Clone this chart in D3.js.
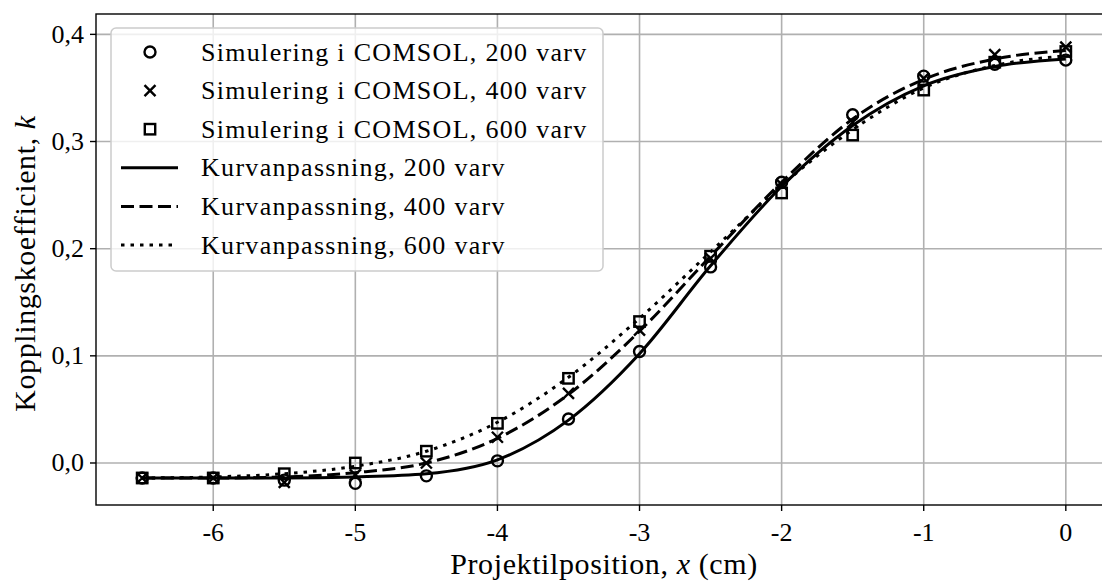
<!DOCTYPE html>
<html>
<head>
<meta charset="utf-8">
<script src="https://cdn.jsdelivr.net/npm/d3@7"></script>
<style>
  body { margin: 0; background: #fff; }
  svg { display: block; }
  text { font-family: 'Liberation Serif', 'DejaVu Serif', serif; fill: #000; }
</style>
</head>
<body>
<div id="chart"></div>
<script>
const positions = [-6.5, -6, -5.5, -5, -4.5, -4, -3.5, -3, -2.5, -2, -1.5, -1, -0.5, 0];

// Simulated points (COMSOL)
const sim200 = [-0.014, -0.014, -0.016, -0.019, -0.012, 0.002, 0.041, 0.104, 0.183, 0.262, 0.325, 0.361, 0.372, 0.376];
const sim400 = [-0.014, -0.014, -0.018, -0.011, 0.000, 0.024, 0.065, 0.124, 0.191, 0.260, 0.318, 0.359, 0.381, 0.388];
const sim600 = [-0.014, -0.014, -0.010, 0.000, 0.011, 0.037, 0.079, 0.132, 0.193, 0.252, 0.306, 0.348, 0.374, 0.384];

// Fitted curves
const fit200 = [-0.014, -0.014, -0.014, -0.013, -0.010, 0.003, 0.040, 0.102, 0.184, 0.258, 0.315, 0.352, 0.370, 0.377];
const fit400 = [-0.014, -0.014, -0.013, -0.009, 0.000, 0.023, 0.064, 0.123, 0.193, 0.262, 0.321, 0.358, 0.377, 0.385];
const fit600 = [-0.014, -0.013, -0.010, -0.003, 0.011, 0.038, 0.080, 0.135, 0.197, 0.259, 0.311, 0.350, 0.371, 0.380];

const xTicks = [-6, -5, -4, -3, -2, -1, 0];
const yTicks = [0.0, 0.1, 0.2, 0.3, 0.4];

const simLabels = ['Simulering i COMSOL, 200 varv', 'Simulering i COMSOL, 400 varv', 'Simulering i COMSOL, 600 varv'];
const fitLabels = ['Kurvanpassning, 200 varv', 'Kurvanpassning, 400 varv', 'Kurvanpassning, 600 varv'];

const width = 1102;
const height = 581;
const plot = { left: 96, top: 14, bottom: 505, right: 1112 };

const svg = d3.select('#chart')
  .append('svg')
  .attr('width', width)
  .attr('height', height);

const x = d3.scaleLinear().domain([-6.825, 0.325]).range([plot.left, plot.right]);
const y = d3.scaleLinear().domain([-0.0392, 0.419]).range([plot.bottom, plot.top]);

// Grid
const grid = svg.append('g').attr('stroke', '#b0b0b0').attr('stroke-width', 1.6);
grid.selectAll('.gx').data(xTicks).enter().append('line')
  .attr('x1', d => x(d)).attr('x2', d => x(d))
  .attr('y1', plot.top).attr('y2', plot.bottom);
grid.selectAll('.gy').data(yTicks).enter().append('line')
  .attr('x1', plot.left).attr('x2', plot.right)
  .attr('y1', d => y(d)).attr('y2', d => y(d));

// Markers
const markerSize = 5.5;
const markers = svg.append('g')
  .attr('fill', 'none')
  .attr('stroke', '#000')
  .attr('stroke-width', 2.4);

function drawCircle(g, cx, cy) {
  g.append('circle').attr('cx', cx).attr('cy', cy).attr('r', markerSize);
}
function drawCross(g, cx, cy) {
  const s = markerSize;
  g.append('path').attr('d', `M${cx - s},${cy - s}L${cx + s},${cy + s}M${cx - s},${cy + s}L${cx + s},${cy - s}`);
}
function drawSquare(g, cx, cy) {
  const s = markerSize - 0.3;
  g.append('rect').attr('x', cx - s).attr('y', cy - s).attr('width', 2 * s).attr('height', 2 * s);
}

const simSeries = [sim200, sim400, sim600];
const drawers = [drawCircle, drawCross, drawSquare];
simSeries.forEach((series, i) => {
  series.forEach((v, j) => drawers[i](markers, x(positions[j]), y(v)));
});

// Fitted lines
const dashes = [null, '13,5.5', '3.5,6'];
const line = d3.line()
  .x((d, i) => x(positions[i]))
  .y(d => y(d))
  .curve(d3.curveMonotoneX);

[fit200, fit400, fit600].forEach((series, i) => {
  svg.append('path')
    .datum(series)
    .attr('d', line)
    .attr('fill', 'none')
    .attr('stroke', '#000')
    .attr('stroke-width', 3)
    .attr('stroke-dasharray', dashes[i]);
});

// Spines
svg.append('rect')
  .attr('x', plot.left).attr('y', plot.top)
  .attr('width', plot.right - plot.left).attr('height', plot.bottom - plot.top)
  .attr('fill', 'none').attr('stroke', '#000').attr('stroke-width', 1.4);

// Ticks
const tickFont = 26;
svg.selectAll('.xt').data(xTicks).enter().append('line')
  .attr('x1', d => x(d)).attr('x2', d => x(d))
  .attr('y1', plot.bottom).attr('y2', plot.bottom + 6)
  .attr('stroke', '#000').attr('stroke-width', 1.4);
svg.selectAll('.xl').data(xTicks).enter().append('text')
  .attr('x', d => x(d)).attr('y', 541)
  .attr('text-anchor', 'middle')
  .style('font-size', tickFont + 'px')
  .text(d => String(d));

svg.selectAll('.yt').data(yTicks).enter().append('line')
  .attr('x1', plot.left - 6).attr('x2', plot.left)
  .attr('y1', d => y(d)).attr('y2', d => y(d))
  .attr('stroke', '#000').attr('stroke-width', 1.4);
svg.selectAll('.yl').data(yTicks).enter().append('text')
  .attr('x', 84).attr('y', d => y(d) + 8.5)
  .attr('text-anchor', 'end')
  .style('font-size', tickFont + 'px')
  .text(d => d.toFixed(1).replace('.', ','));

// Axis labels
const labelFont = '30px';
const xLabel = svg.append('text')
  .attr('x', (plot.left + plot.right) / 2).attr('y', 574)
  .attr('text-anchor', 'middle')
  .style('font-size', labelFont)
  .style('letter-spacing', '0.6px');
xLabel.append('tspan').text('Projektilposition, ');
xLabel.append('tspan').style('font-style', 'italic').text('x');
xLabel.append('tspan').text(' (cm)');

const yLabel = svg.append('text')
  .attr('transform', 'translate(35,' + ((plot.top + plot.bottom) / 2 + 4) + ') rotate(-90)')
  .attr('text-anchor', 'middle')
  .style('font-size', labelFont)
  .style('letter-spacing', '0.6px');
yLabel.append('tspan').text('Kopplingskoefficient, ');
yLabel.append('tspan').style('font-style', 'italic').text('k');

// Legend
const legend = svg.append('g');
legend.append('rect')
  .attr('x', 111).attr('y', 28)
  .attr('width', 492).attr('height', 243)
  .attr('rx', 5)
  .attr('fill', '#fff').attr('fill-opacity', 0.8)
  .attr('stroke', '#cccccc').attr('stroke-width', 1.5);

const rowY = d3.scaleLinear().domain([0, 5]).range([52, 245]);
const legendLabels = simLabels.concat(fitLabels);
const legendMarks = legend.append('g')
  .attr('fill', 'none').attr('stroke', '#000').attr('stroke-width', 2.4);
drawers.forEach((draw, i) => draw(legendMarks, 150, rowY(i)));
dashes.forEach((dash, i) => {
  legend.append('line')
    .attr('x1', 121).attr('x2', 178)
    .attr('y1', rowY(i + 3)).attr('y2', rowY(i + 3))
    .attr('stroke', '#000').attr('stroke-width', 3)
    .attr('stroke-dasharray', dash);
});
legend.selectAll('.lt').data(legendLabels).enter().append('text')
  .attr('x', 201).attr('y', (d, i) => rowY(i) + 8.5)
  .style('font-size', '26px')
  .style('letter-spacing', '1.3px')
  .text(d => d);
</script>
</body>
</html>
